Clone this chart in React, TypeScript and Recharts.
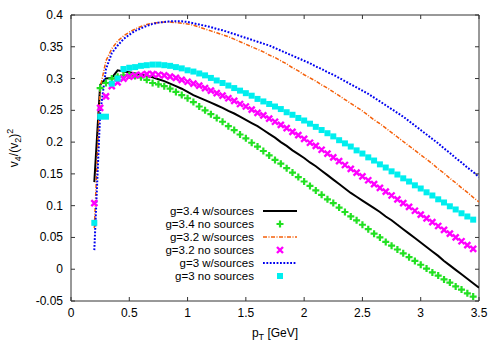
import React from "react";
import {
  ComposedChart,
  Line,
  ReferenceArea,
  Scatter,
  XAxis,
  YAxis,
} from "recharts";

// pT grid (GeV) shared by all series
const PT = [
  0.2, 0.25, 0.3, 0.35, 0.4, 0.45, 0.5, 0.55, 0.6, 0.65,
  0.7, 0.75, 0.8, 0.85, 0.9, 0.95, 1, 1.05, 1.1, 1.15,
  1.2, 1.25, 1.3, 1.35, 1.4, 1.45, 1.5, 1.55, 1.6, 1.65,
  1.7, 1.75, 1.8, 1.85, 1.9, 1.95, 2, 2.05, 2.1, 2.15,
  2.2, 2.25, 2.3, 2.35, 2.4, 2.45, 2.5, 2.55, 2.6, 2.65,
  2.7, 2.75, 2.8, 2.85, 2.9, 2.95, 3, 3.05, 3.1, 3.15,
  3.2, 3.25, 3.3, 3.35, 3.4, 3.45, 3.5,
];

const G34_SRC = [
  0.137, 0.29, 0.3, 0.301, 0.313, 0.311, 0.31, 0.308, 0.306, 0.304,
  0.302, 0.299, 0.296, 0.292, 0.288, 0.284, 0.279, 0.274, 0.27, 0.266,
  0.262, 0.258, 0.254, 0.249, 0.245, 0.24, 0.235, 0.23, 0.225, 0.219,
  0.213, 0.207, 0.2, 0.194, 0.187, 0.181, 0.175, 0.168, 0.162, 0.155,
  0.148, 0.141, 0.134, 0.127, 0.12, 0.114, 0.108, 0.102, 0.096, 0.09,
  0.083, 0.077, 0.07, 0.063, 0.056, 0.049, 0.042, 0.035, 0.028, 0.021,
  0.013, 0.006, -0.001, -0.008, -0.015, -0.022, -0.029,
];

const G34_NOSRC = [
  null, 0.285, 0.293, 0.3, 0.303, 0.305, 0.305, 0.304, 0.302, 0.298,
  0.293, 0.291, 0.288, 0.284, 0.279, 0.274, 0.269, 0.263, 0.256, 0.25,
  0.244, 0.238, 0.232, 0.225, 0.219, 0.212, 0.206, 0.199, 0.193, 0.186,
  0.179, 0.172, 0.166, 0.159, 0.152, 0.145, 0.138, 0.131, 0.124, 0.117,
  0.11, 0.104, 0.097, 0.09, 0.083, 0.077, 0.07, 0.063, 0.056, 0.05,
  0.043, 0.037, 0.031, 0.025, 0.019, 0.013, 0.007, 0.001, -0.005, -0.01,
  -0.016, -0.021, -0.027, -0.032, -0.038, -0.043, null,
];

const G32_SRC = [
  0.065, 0.285, 0.328, 0.347, 0.359, 0.367, 0.373, 0.378, 0.382, 0.385,
  0.387, 0.388, 0.389, 0.389, 0.388, 0.387, 0.386, 0.384, 0.381, 0.378,
  0.375, 0.372, 0.369, 0.366, 0.362, 0.358, 0.354, 0.35, 0.346, 0.342,
  0.337, 0.333, 0.328, 0.323, 0.317, 0.312, 0.306, 0.301, 0.296, 0.29,
  0.285, 0.279, 0.273, 0.267, 0.261, 0.255, 0.249, 0.242, 0.235, 0.229,
  0.222, 0.215, 0.208, 0.201, 0.194, 0.187, 0.18, 0.173, 0.166, 0.158,
  0.151, 0.143, 0.136, 0.128, 0.121, 0.113, 0.106,
];

const G32_NOSRC = [
  0.104, 0.254, 0.272, 0.288, 0.294, 0.3, 0.303, 0.305, 0.306, 0.307,
  0.307, 0.306, 0.305, 0.303, 0.301, 0.298, 0.295, 0.292, 0.289, 0.285,
  0.281, 0.277, 0.273, 0.269, 0.265, 0.26, 0.256, 0.251, 0.246, 0.242,
  0.237, 0.232, 0.227, 0.222, 0.216, 0.211, 0.205, 0.199, 0.194, 0.188,
  0.182, 0.176, 0.17, 0.164, 0.158, 0.152, 0.146, 0.14, 0.134, 0.128,
  0.122, 0.116, 0.11, 0.104, 0.098, 0.092, 0.086, 0.08, 0.074, 0.068,
  0.062, 0.056, 0.05, 0.044, 0.038, 0.032, null,
];

const G3_SRC = [
  0.03, 0.245, 0.315, 0.34, 0.352, 0.362, 0.369, 0.375, 0.379, 0.383,
  0.386, 0.388, 0.389, 0.39, 0.39, 0.39, 0.389, 0.387, 0.385, 0.383,
  0.381, 0.378, 0.376, 0.373, 0.37, 0.367, 0.364, 0.361, 0.358, 0.355,
  0.352, 0.348, 0.344, 0.34, 0.336, 0.332, 0.328, 0.324, 0.319, 0.315,
  0.31, 0.306, 0.301, 0.296, 0.291, 0.286, 0.281, 0.276, 0.27, 0.264,
  0.258, 0.252, 0.246, 0.24, 0.233, 0.226, 0.219, 0.212, 0.205, 0.198,
  0.19, 0.183, 0.175, 0.168, 0.16, 0.153, 0.145,
];

const G3_NOSRC = [
  0.073, 0.24, 0.24, 0.292, 0.3, 0.315, 0.317, 0.318, 0.32, 0.321,
  0.322, 0.322, 0.321, 0.32, 0.318, 0.316, 0.313, 0.311, 0.308, 0.305,
  0.301, 0.297, 0.293, 0.289, 0.285, 0.281, 0.277, 0.273, 0.268, 0.264,
  0.26, 0.256, 0.252, 0.247, 0.243, 0.238, 0.234, 0.229, 0.224, 0.219,
  0.214, 0.209, 0.203, 0.198, 0.193, 0.187, 0.182, 0.176, 0.171, 0.165,
  0.16, 0.154, 0.149, 0.143, 0.138, 0.132, 0.127, 0.121, 0.116, 0.11,
  0.105, 0.099, 0.094, 0.088, 0.083, 0.078, null,
];

const X_TICKS = [0, 0.5, 1, 1.5, 2, 2.5, 3, 3.5];
const Y_TICKS = [-0.05, 0, 0.05, 0.1, 0.15, 0.2, 0.25, 0.3, 0.35, 0.4];

const FONT = "'Liberation Sans', Arial, Helvetica, sans-serif";
const FS = 12;
const LEGEND_FS = 11.5;
const AXIS = "#333";
const TICK = 4;
const TOP = 15;
const RIGHT = 479;
const LEFT = 71;
const BOTTOM = 301;

const toPoints = (vals: (number | null)[]) =>
  PT.map((pt, i) => ({ pt, v: vals[i] })).filter((d) => d.v !== null);

const Plus = ({ cx, cy, color }: any) => (
  <path
    d={`M${cx - 3.5},${cy}H${cx + 3.5}M${cx},${cy - 3.5}V${cy + 3.5}`}
    stroke={color}
    strokeWidth={2.2}
  />
);
const Cross = ({ cx, cy, color }: any) => (
  <path
    d={`M${cx - 3},${cy - 3}L${cx + 3},${cy + 3}M${cx - 3},${cy + 3}L${cx + 3},${cy - 3}`}
    stroke={color}
    strokeWidth={2.4}
  />
);
const Square = ({ cx, cy, color }: any) => (
  <rect x={cx - 3} y={cy - 3} width={6} height={6} fill={color} />
);

const SERIES = [
  { name: "g=3.4 w/sources", vals: G34_SRC, color: "#000000", kind: "line", width: 2, dash: undefined },
  { name: "g=3.4 no sources", vals: G34_NOSRC, color: "#22e022", kind: "plus" },
  { name: "g=3.2 w/sources", vals: G32_SRC, color: "#f5600a", kind: "line", width: 1.5, dash: "4 1.5 1 1.5" },
  { name: "g=3.2 no sources", vals: G32_NOSRC, color: "#ff00ff", kind: "cross" },
  { name: "g=3 w/sources", vals: G3_SRC, color: "#0000f0", kind: "line", width: 2, dash: "1.8 1.6" },
  { name: "g=3 no sources", vals: G3_NOSRC, color: "#00eeee", kind: "square" },
];

const markerFor = (kind: string, color: string) => (p: any) => {
  if (kind === "plus") return <Plus cx={p.cx} cy={p.cy} color={color} />;
  if (kind === "cross") return <Cross cx={p.cx} cy={p.cy} color={color} />;
  return <Square cx={p.cx} cy={p.cy} color={color} />;
};

const XTick = ({ x, y, payload }: any) => (
  <g>
    <line x1={x} y1={y} x2={x} y2={y - TICK} stroke={AXIS} />
    <line x1={x} y1={TOP} x2={x} y2={TOP + TICK} stroke={AXIS} />
    <text x={x} y={y + 16} textAnchor="middle" fontFamily={FONT} fontSize={FS} fill="#000">
      {payload.value}
    </text>
  </g>
);

const YTick = ({ x, y, payload }: any) => (
  <g>
    <line x1={x} y1={y} x2={x + TICK} y2={y} stroke={AXIS} />
    <line x1={RIGHT} y1={y} x2={RIGHT - TICK} y2={y} stroke={AXIS} />
    <text x={x - 8} y={y + 4} textAnchor="end" fontFamily={FONT} fontSize={FS} fill="#000">
      {payload.value}
    </text>
  </g>
);

function Overlay() {
  const rowY = [211, 224, 237, 250, 263, 276];
  return (
    <svg
      width={500}
      height={350}
      style={{ position: "absolute", left: 0, top: 0, pointerEvents: "none" }}
      fontFamily={FONT}
      fontSize={FS}
    >
      <text transform="translate(18,148) rotate(-90)" textAnchor="middle" fill="#000">
        v<tspan dy={3} fontSize={9}>4</tspan>
        <tspan dy={-3}>/(v</tspan>
        <tspan dy={3} fontSize={9}>2</tspan>
        <tspan dy={-3}>)</tspan>
        <tspan dy={-5} fontSize={9}>2</tspan>
      </text>
      <text x={(LEFT + RIGHT) / 2} y={337} textAnchor="middle" fill="#000">
        p<tspan dy={3} fontSize={9}>T</tspan>
        <tspan dy={-3}> [GeV]</tspan>
      </text>
      {SERIES.map((s, i) => {
        const cy = rowY[i];
        return (
          <g key={s.name}>
            <text x={254} y={cy + 4} textAnchor="end" fill="#000" fontSize={LEGEND_FS}>
              {s.name}
            </text>
            {s.kind === "line" ? (
              <line
                x1={263}
                x2={297}
                y1={cy}
                y2={cy}
                stroke={s.color}
                strokeWidth={s.width}
                strokeDasharray={s.dash}
              />
            ) : (
              markerFor(s.kind, s.color)({ cx: 280, cy })
            )}
          </g>
        );
      })}
    </svg>
  );
}

export default function App() {
  return (
    <div style={{ position: "absolute", left: 0, top: 0, width: 500, height: 350, background: "#fff" }}>
      <ComposedChart
        width={500}
        height={350}
        margin={{ top: TOP, right: 500 - RIGHT, left: 0, bottom: 0 }}
      >
        <XAxis
          dataKey="pt"
          type="number"
          domain={[0, 3.5]}
          ticks={X_TICKS}
          interval={0}
          height={350 - BOTTOM}
          tickSize={0}
          tickMargin={0}
          tickLine={false}
          axisLine={false}
          tick={<XTick />}
          allowDataOverflow
        />
        <YAxis
          type="number"
          domain={[-0.05, 0.4]}
          ticks={Y_TICKS}
          interval={0}
          width={LEFT}
          tickSize={0}
          tickMargin={0}
          tickLine={false}
          axisLine={false}
          tick={<YTick />}
          allowDataOverflow
        />
        <ReferenceArea
          x1={0}
          x2={3.5}
          y1={-0.05}
          y2={0.4}
          fill="none"
          fillOpacity={0}
          stroke={AXIS}
          strokeWidth={1}
          ifOverflow="visible"
        />
        {SERIES.map((s) =>
          s.kind === "line" ? (
            <Line
              key={s.name}
              data={toPoints(s.vals)}
              dataKey="v"
              name={s.name}
              type="linear"
              stroke={s.color}
              strokeWidth={s.width}
              strokeDasharray={s.dash}
              dot={false}
              isAnimationActive={false}
            />
          ) : (
            <Scatter
              key={s.name}
              data={toPoints(s.vals)}
              dataKey="v"
              name={s.name}
              shape={markerFor(s.kind, s.color)}
              isAnimationActive={false}
            />
          )
        )}
      </ComposedChart>
      <Overlay />
    </div>
  );
}
